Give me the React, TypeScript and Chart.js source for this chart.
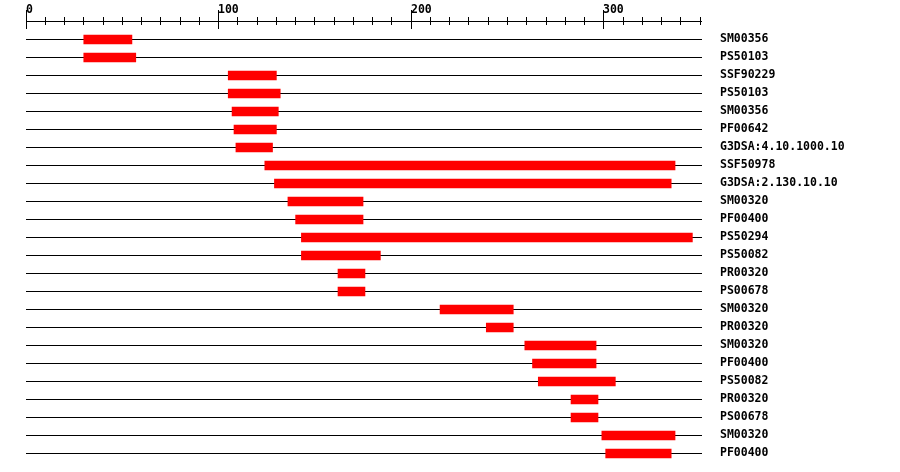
import React, { useEffect, useRef } from "react";
import { Chart, registerables } from "chart.js";

Chart.register(...registerables);

const domainLabels = [
  "SM00356", "PS50103", "SSF90229", "PS50103", "SM00356", "PF00642",
  "G3DSA:4.10.1000.10", "SSF50978", "G3DSA:2.130.10.10", "SM00320", "PF00400",
  "PS50294", "PS50082", "PR00320", "PS00678", "SM00320", "PR00320", "SM00320",
  "PF00400", "PS50082", "PR00320", "PS00678", "SM00320", "PF00400",
];
const domainStarts = [
  30, 30, 105, 105, 107, 108, 109, 124, 129, 136, 140, 143, 143, 162, 162,
  215, 239, 259, 263, 266, 283, 283, 299, 301,
];
const domainEnds = [
  55, 57, 130, 132, 131, 130, 128, 337, 335, 175, 175, 346, 184, 176, 176,
  253, 253, 296, 296, 306, 297, 297, 337, 335,
];
const sequenceLength = 351;
const majorTicks = [0, 100, 200, 300];
const minorStep = 10;

const MONO = "'DejaVu Sans Mono', 'Liberation Mono', monospace";

export default function App() {
  const ref = useRef<HTMLCanvasElement | null>(null);

  useEffect(() => {
    if (!ref.current) return;
    const axisPlugin = {
      id: "seqAxis",
      beforeDatasetsDraw(chart: any) {
        const ctx = chart.ctx;
        const xs = chart.scales.x;
        const ys = chart.scales.y;
        const { left, right } = chart.chartArea;
        ctx.save();
        ctx.strokeStyle = "#000";
        ctx.lineWidth = 1;
        domainLabels.forEach((_, i) => {
          const y = Math.floor(ys.getPixelForValue(i)) + 0.5;
          ctx.beginPath();
          ctx.moveTo(left, y);
          ctx.lineTo(right, y);
          ctx.stroke();
        });
        ctx.beginPath();
        ctx.moveTo(left, 21.5);
        ctx.lineTo(right, 21.5);
        ctx.stroke();
        for (let v = 0; v < sequenceLength; v += minorStep) {
          const x = Math.floor(xs.getPixelForValue(v)) + 0.5;
          const major = majorTicks.includes(v);
          ctx.beginPath();
          ctx.moveTo(x, major ? 10 : 17);
          ctx.lineTo(x, major ? 29 : 25);
          ctx.stroke();
        }
        ctx.fillStyle = "#000";
        ctx.font = "bold 11.5px " + MONO;
        ctx.textAlign = "left";
        ctx.textBaseline = "alphabetic";
        majorTicks.forEach((v) => {
          const x = Math.floor(xs.getPixelForValue(v));
          ctx.fillText(String(v), x, 12.5);
        });
        ctx.restore();
      },
    };

    const chart = new Chart(ref.current, {
      type: "bar",
      data: {
        labels: domainLabels,
        datasets: [
          {
            data: domainStarts.map((s, i) => [s, domainEnds[i]]) as any,
            backgroundColor: "#ff0000",
            borderWidth: 0,
            barThickness: 9,
            borderSkipped: false,
          },
        ],
      },
      options: {
        indexAxis: "y",
        animation: false,
        responsive: false,
        maintainAspectRatio: false,
        devicePixelRatio: 1,
        layout: { padding: { left: 26, top: 30.5, bottom: 9.5, right: 0 } },
        plugins: { legend: { display: false }, tooltip: { enabled: false } },
        scales: {
          x: {
            type: "linear",
            display: false,
            min: 0,
            max: sequenceLength,
          },
          y: {
            position: "right",
            grid: { display: false, drawTicks: false },
            border: { display: false },
            ticks: {
              color: "#000",
              padding: 18,
              autoSkip: false,
              font: { family: MONO, size: 11.5, weight: "bold" },
            },
            afterFit(scale: any) {
              scale.width = 198;
              scale.paddingTop = 0;
              scale.paddingBottom = 0;
            },
          },
        },
      },
      plugins: [axisPlugin],
    });
    return () => chart.destroy();
  }, []);

  return (
    <div style={{ position: "fixed", left: 0, top: 0, width: 900, height: 472, background: "#fff" }}>
      <canvas ref={ref} width={900} height={472} style={{ display: "block", width: 900, height: 472 }} />
    </div>
  );
}
